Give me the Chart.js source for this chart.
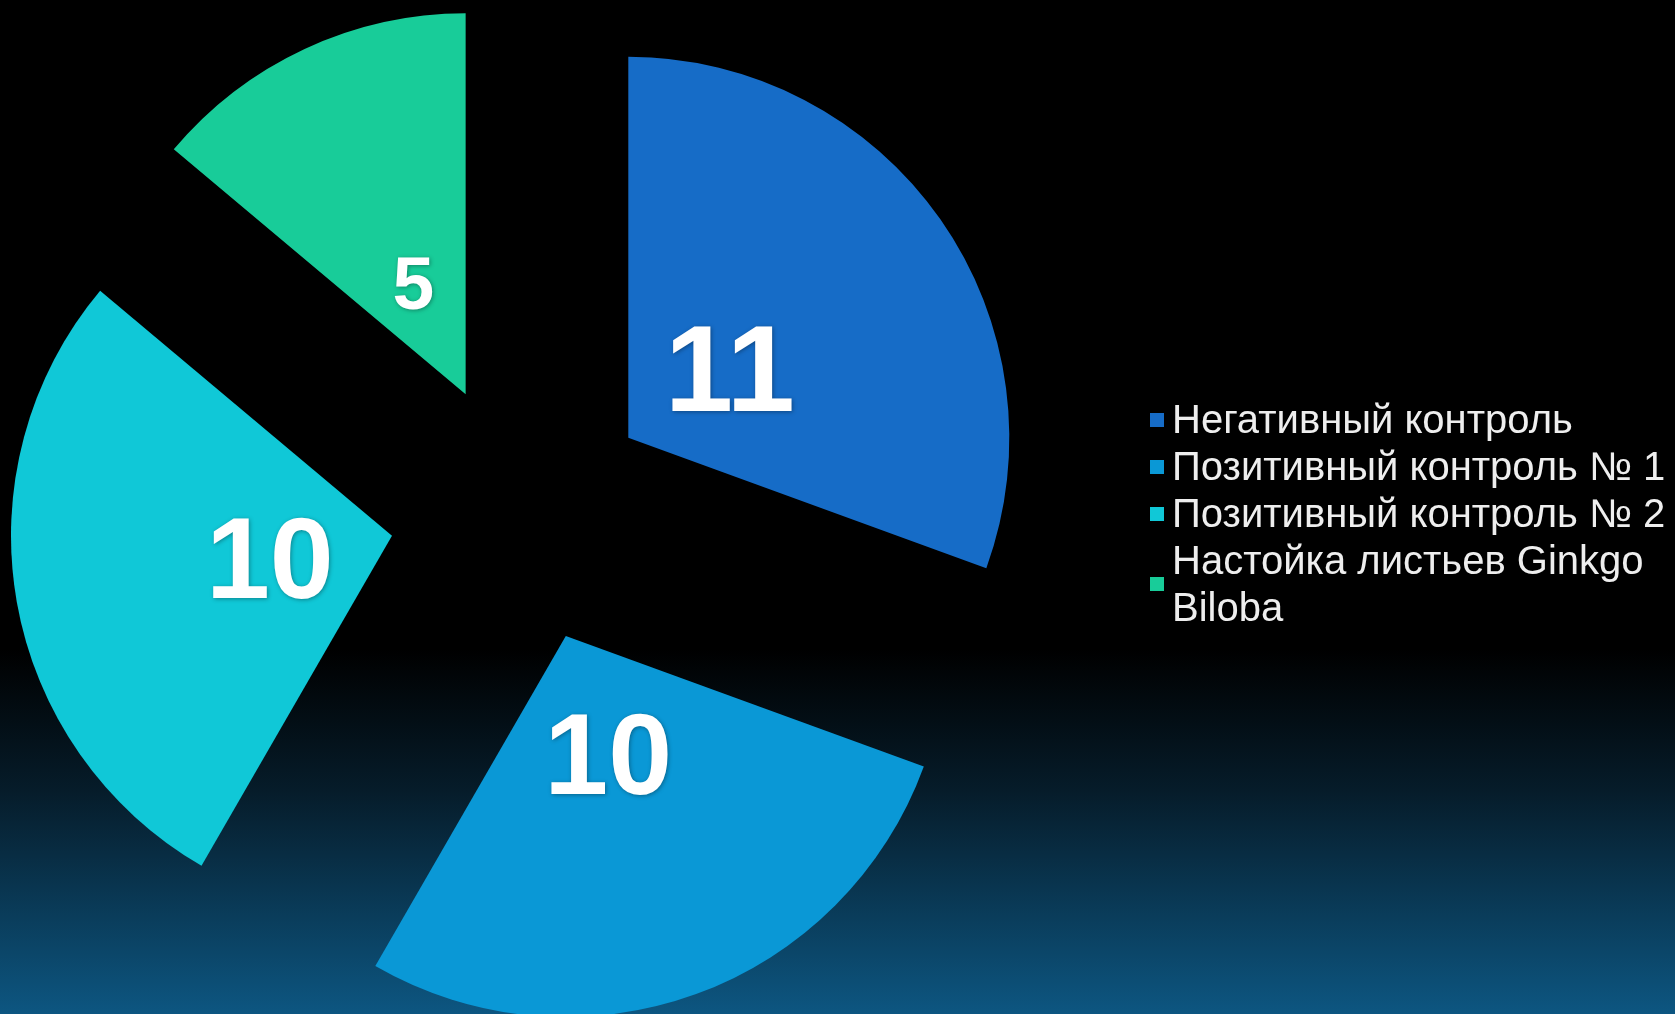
<!DOCTYPE html>
<html lang="ru">
<head>
    <meta charset="UTF-8">
    <title>Pie chart</title>
    <script src="https://cdn.jsdelivr.net/npm/chart.js"></script>
    <style>
        html, body {
            margin: 0;
            padding: 0;
            width: 1675px;
            height: 1014px;
            overflow: hidden;
            background: linear-gradient(to bottom, #000000 0%, #000000 64%, #061c2a 78%, #0d5681 100%);
            font-family: 'Liberation Sans', Arial, sans-serif;
        }

        .chart-box {
            position: absolute;
            left: 0;
            top: 0;
            width: 1675px;
            height: 1014px;
        }

        /* legend on the right */
        .legend {
            position: absolute;
            left: 1150px;
            top: 396px;
            width: 560px;
        }

        .legend-item {
            display: flex;
            align-items: center;
        }

        .legend-item .box {
            flex: none;
            width: 14px;
            height: 14px;
            margin-right: 8px;
        }

        .legend-item .txt {
            color: #eeeeee;
            font-size: 40px;
            line-height: 47px;
            width: 525px;
        }
    </style>
</head>
<body>

<div class="chart-box">
    <canvas id="pieChart"></canvas>
</div>
<div class="legend" id="legend"></div>

<script>
    const categories = ['Негативный контроль', 'Позитивный контроль № 1', 'Позитивный контроль № 2', 'Настойка листьев Ginkgo Biloba'];
    const values = [11, 10, 10, 5];

    const sliceColors = ['#166cc7', '#0a98d6', '#10c8d7', '#18cc99'];
    const labelSizes = [123, 115, 115, 75];

    // exploded slices: push every arc out along its middle angle
    const explodePlugin = {
        id: 'explode',
        afterDatasetUpdate(chart, args) {
            const dist = 131;
            args.meta.data.forEach(function (arc) {
                const mid = (arc.startAngle + arc.endAngle) / 2;
                arc.x += Math.cos(mid) * dist;
                arc.y += Math.sin(mid) * dist;
            });
        }
    };

    // value labels inside slices
    const valueLabels = {
        id: 'valueLabels',
        afterDatasetDraw(chart, args) {
            const ctx = chart.ctx;
            const data = chart.data.datasets[args.index].data;
            ctx.save();
            ctx.fillStyle = '#ffffff';
            ctx.textAlign = 'center';
            ctx.textBaseline = 'alphabetic';
            ctx.shadowColor = 'rgba(0, 0, 0, 0.35)';
            ctx.shadowBlur = 4;
            ctx.shadowOffsetX = 1;
            ctx.shadowOffsetY = 1;
            args.meta.data.forEach(function (arc, i) {
                const mid = (arc.startAngle + arc.endAngle) / 2;
                const x = arc.x + Math.cos(mid) * 124;
                const y = arc.y + Math.sin(mid) * 124;
                const size = labelSizes[i];
                ctx.font = 'bold ' + size + 'px "Liberation Sans", Arial, sans-serif';
                ctx.fillText(String(data[i]), x, y + size * 0.716 / 2);
            });
            ctx.restore();
        }
    };

    const ctx = document.getElementById('pieChart').getContext('2d');
    new Chart(ctx, {
        type: 'pie',
        data: {
            labels: categories,
            datasets: [{
                data: values,
                backgroundColor: sliceColors,
                borderWidth: 0
            }]
        },
        options: {
            responsive: true,
            maintainAspectRatio: false,
            animation: false,
            events: [],
            radius: 381,
            layout: {
                padding: { left: 0, right: 633, top: 12, bottom: 0 }
            },
            plugins: {
                legend: { display: false },
                tooltip: { enabled: false }
            }
        },
        plugins: [explodePlugin, valueLabels]
    });

    // legend built from the same arrays
    const legendEl = document.getElementById('legend');
    categories.forEach(function (name, i) {
        const item = document.createElement('div');
        item.className = 'legend-item';
        const box = document.createElement('span');
        box.className = 'box';
        box.style.background = sliceColors[i];
        const txt = document.createElement('span');
        txt.className = 'txt';
        txt.textContent = name;
        item.appendChild(box);
        item.appendChild(txt);
        legendEl.appendChild(item);
    });
</script>
</body>
</html>
